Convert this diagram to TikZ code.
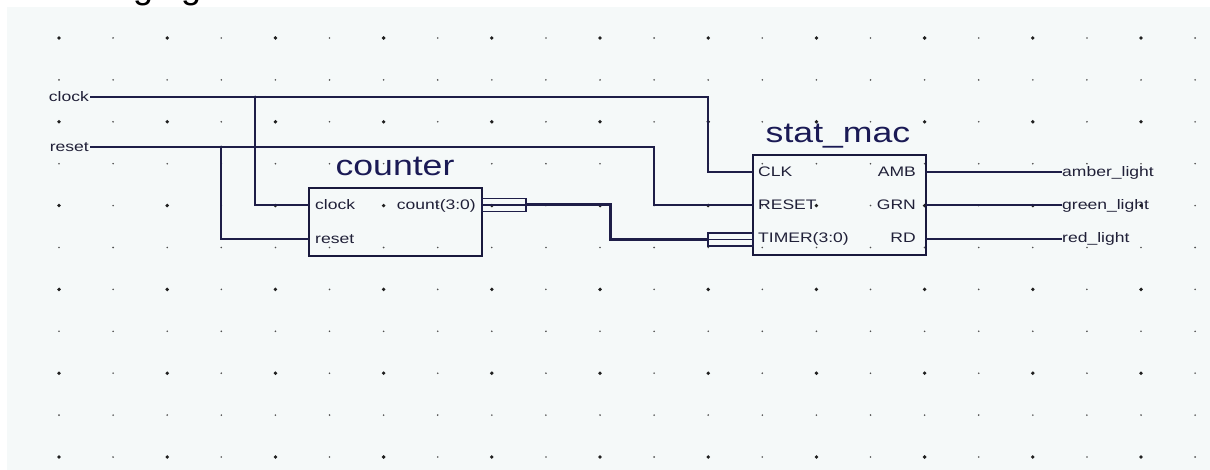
\documentclass[tikz,border=0pt]{standalone}
\usepackage{fontspec}
\setmainfont{Liberation Sans}
\definecolor{bgc}{HTML}{F5F9F9}
\definecolor{wirec}{HTML}{1E1E48}
\definecolor{txtc}{HTML}{202038}
\definecolor{bigc}{HTML}{1A1A55}
\definecolor{dotbig}{HTML}{202020}
\definecolor{dotsm}{HTML}{505050}
\begin{document}
\begin{tikzpicture}[x=1pt,y=-1pt,
  wire/.style={draw=wirec,line width=1.4pt},
  busw/.style={draw=wirec,line width=3pt},
  stub/.style={draw=wirec,line width=1.2pt},
  box/.style={draw=wirec!85!black,line width=1.3pt,rectangle,inner sep=0pt},
  lbl/.style={inner sep=0pt,text=txtc,font=\fontsize{13.8}{15}\selectfont},
  biglbl/.style={inner sep=0pt,text=bigc,font=\fontsize{28.5}{32}\selectfont},
  jdot/.style={fill=wirec,circle,inner sep=0pt,minimum size=3pt}]
\useasboundingbox (0,0) rectangle (1210,470);
\clip (0,0) rectangle (1210,470);
% cut-off heading above the sheet
\node[anchor=base west,inner sep=0pt,font=\fontsize{36}{40}\selectfont] (head) at (133,-1) {ging};
\fill[bgc] (7,7) rectangle (1225,485);
% grid
\foreach \i in {0,...,21}{
  \foreach \j in {0,...,10}{
    \pgfmathparse{int(mod(\i,2)+mod(\j,2))}
    \ifnum\pgfmathresult=0
      \fill[dotbig] (59+54.1*\i,38+41.9*\j) circle (1.9pt);
    \else
      \fill[dotsm] (59+54.1*\i,38+41.9*\j) circle (0.9pt);
    \fi
  }
}
% input labels
\node[lbl,anchor=base east] (clockL) at (89,101.5) {\scalebox{1.27}[1]{clock}};
\node[lbl,anchor=base east] (resetL) at (89,151.5) {\scalebox{1.27}[1]{reset}};
% counter block
\node[box,minimum width=173,minimum height=68] (cnt) at (395.5,222) {};
\node[biglbl,anchor=base] (cntT) at (395,176) {\scalebox{1.25}[1]{counter}};
\node[lbl,anchor=base west] (cntclk) at (315,209.5) {\scalebox{1.27}[1]{clock}};
\node[lbl,anchor=base west] (cntrst) at (315,243.5) {\scalebox{1.27}[1]{reset}};
\node[lbl,anchor=base east] (cntcnt) at (476,209.5) {\scalebox{1.27}[1]{count(3:0)}};
% stat_mac block
\node[box,minimum width=173,minimum height=100] (sm) at (839.5,205) {};
\node[biglbl,anchor=base] (smT) at (838,143) {\scalebox{1.25}[1]{stat\_mac}};
\node[lbl,anchor=base west] (smclk) at (758,176.5) {\scalebox{1.27}[1]{CLK}};
\node[lbl,anchor=base west] (smrst) at (758,209.5) {\scalebox{1.27}[1]{RESET}};
\node[lbl,anchor=base west] (smtim) at (758,242.5) {\scalebox{1.27}[1]{TIMER(3:0)}};
\node[lbl,anchor=base east] (smamb) at (916,176.5) {\scalebox{1.27}[1]{AMB}};
\node[lbl,anchor=base east] (smgrn) at (916,209.5) {\scalebox{1.27}[1]{GRN}};
\node[lbl,anchor=base east] (smrd) at (916,242.5) {\scalebox{1.27}[1]{RD}};
% output labels
\node[lbl,anchor=base west] (ambL) at (1062,176.5) {\scalebox{1.27}[1]{amber\_light}};
\node[lbl,anchor=base west] (grnL) at (1062,209.5) {\scalebox{1.27}[1]{green\_light}};
\node[lbl,anchor=base west] (redL) at (1062,242.5) {\scalebox{1.27}[1]{red\_light}};
% pin points
\coordinate (pCclk) at (309,205);
\coordinate (pCrst) at (309,239);
\coordinate (pCcnt) at (482,205);
\coordinate (pSclk) at (753,172);
\coordinate (pSrst) at (753,205);
\coordinate (pStim) at (753,239.5);
\coordinate (pSamb) at (926,172);
\coordinate (pSgrn) at (926,205);
\coordinate (pSrd) at (926,239);
\coordinate (jclk) at (255,97);
\coordinate (jrst) at (221,147);
\coordinate (ambE) at (1062,172);
\coordinate (grnE) at (1062,205);
\coordinate (redE) at (1062,239);
% clock and reset nets
\draw[wire] (90,97) -- (708,97) -- (708,172) -- (pSclk);
\draw[wire] (jclk) -- (255,205) -- (pCclk);
\draw[wire] (90,147) -- (654,147) -- (654,205) -- (pSrst);
\draw[wire] (jrst) -- (221,239) -- (pCrst);
\node[jdot] (jclkD) at (jclk) {};
\node[jdot] (jrstD) at (jrst) {};
% bus
\draw[stub] (482,198.5) rectangle (526,211.5);
\draw[stub] (pCcnt) -- (526,205);
\draw[busw] (526,205) -- (610,205) -- (610,239.5) -- (708,239.5);
\draw[stub] (708,233) rectangle (753,246);
\draw[stub] (708,239.5) -- (pStim);
% outputs
\draw[wire] (pSamb) -- (ambE);
\draw[wire] (pSgrn) -- (grnE);
\draw[wire] (pSrd) -- (redE);
\end{tikzpicture}
\end{document}
